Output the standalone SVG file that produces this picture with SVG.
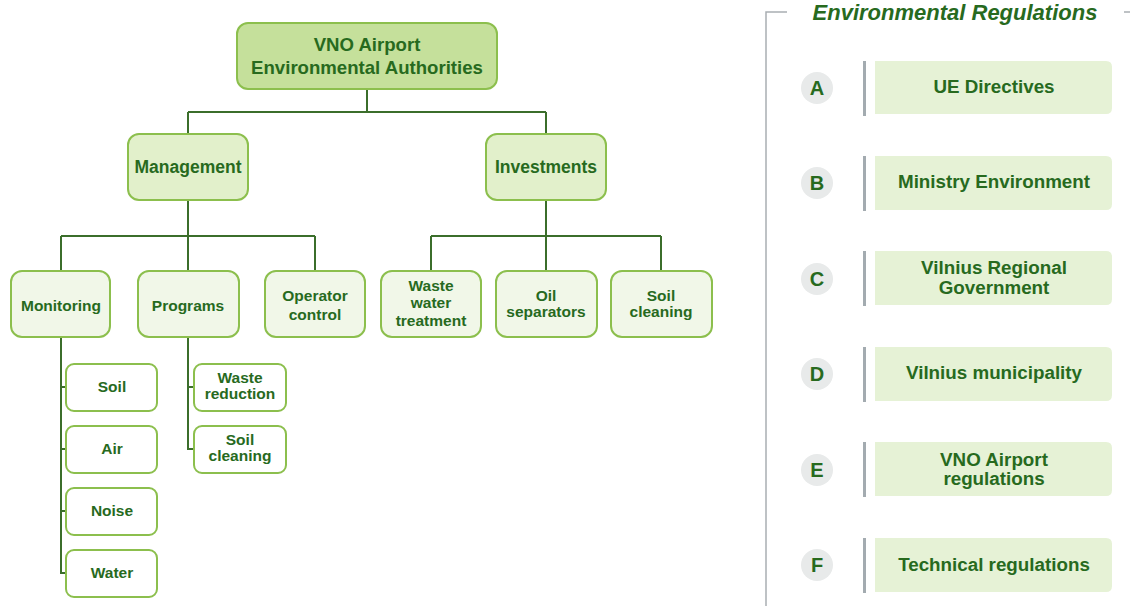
<svg xmlns="http://www.w3.org/2000/svg" width="1130" height="606" viewBox="0 0 1130 606">
<style>
text{font-family:"Liberation Sans",Arial,sans-serif;font-weight:bold;fill:#276a1e;text-anchor:middle}
.n1{fill:#c5e09b;stroke:#8cbf4d;stroke-width:2}
.n2{fill:#e2f0cb;stroke:#8cbf4d;stroke-width:2}
.n3{fill:#f1f7e8;stroke:#8cbf4d;stroke-width:2}
.n4{fill:#ffffff;stroke:#8cbf4d;stroke-width:2}
.t18{font-size:18.6px}
.t17{font-size:17.5px}
.t15{font-size:15.5px}
.conn{fill:none;stroke:#3b6e2b;stroke-width:2}
.frame{fill:none;stroke:#a9aeb2;stroke-width:1.5}
.bar{fill:#a3abb0}
.reg{fill:#e6f2d6}
.circ{fill:#e8eaea}
.rt{font-size:18.8px}
.lt{font-size:20px}
</style>
<g id="connectors">
<path class="conn" d="M367 89V112M188 112H546M188 112V134M546 112V134"/>
<path class="conn" d="M188 200V236M61 236H315M61 236V271M188 236V271M315 236V271"/>
<path class="conn" d="M546 200V236M431 236H661M431 236V271M546 236V271M661 236V271"/>
<path class="conn" d="M61 337V573H66M61 387H66M61 449H66M61 511H66"/>
<path class="conn" d="M188 337V449H194M188 387H194"/>
</g>
<g id="root"><rect class="n1" x="237" y="23" width="260" height="66" rx="11"/><text class="t18" x="367" y="51">VNO Airport</text><text class="t18" x="367" y="74">Environmental Authorities</text></g>
<g id="management"><rect class="n2" x="128" y="134" width="120" height="66" rx="11"/><text class="t17" x="188" y="173">Management</text></g>
<g id="investments"><rect class="n2" x="486" y="134" width="120" height="66" rx="11"/><text class="t17" x="546" y="173">Investments</text></g>
<g id="monitoring"><rect class="n3" x="11" y="271" width="99" height="66" rx="11"/><text class="t15" x="61" y="311">Monitoring</text></g>
<g id="programs"><rect class="n3" x="138" y="271" width="101" height="66" rx="11"/><text class="t15" x="188" y="311">Programs</text></g>
<g id="operator"><rect class="n3" x="265" y="271" width="100" height="66" rx="11"/><text class="t15" x="315" y="301">Operator</text><text class="t15" x="315" y="320">control</text></g>
<g id="wastewater"><rect class="n3" x="381" y="271" width="100" height="66" rx="11"/><text class="t15" x="431" y="291">Waste</text><text class="t15" x="431" y="308">water</text><text class="t15" x="431" y="326">treatment</text></g>
<g id="oil"><rect class="n3" x="496" y="271" width="101" height="66" rx="11"/><text class="t15" x="546" y="301">Oil</text><text class="t15" x="546" y="317">separators</text></g>
<g id="soilclean1"><rect class="n3" x="611" y="271" width="101" height="66" rx="11"/><text class="t15" x="661" y="301">Soil</text><text class="t15" x="661" y="317">cleaning</text></g>
<g id="soil"><rect class="n4" x="66" y="364" width="91" height="47" rx="8"/><text class="t15" x="112" y="392">Soil</text></g>
<g id="air"><rect class="n4" x="66" y="426" width="91" height="47" rx="8"/><text class="t15" x="112" y="454">Air</text></g>
<g id="noise"><rect class="n4" x="66" y="488" width="91" height="47" rx="8"/><text class="t15" x="112" y="516">Noise</text></g>
<g id="water"><rect class="n4" x="66" y="550" width="91" height="47" rx="8"/><text class="t15" x="112" y="578">Water</text></g>
<g id="wastered"><rect class="n4" x="194" y="364" width="92" height="47" rx="8"/><text class="t15" x="240" y="383">Waste</text><text class="t15" x="240" y="399">reduction</text></g>
<g id="soilclean2"><rect class="n4" x="194" y="426" width="92" height="47" rx="8"/><text class="t15" x="240" y="445">Soil</text><text class="t15" x="240" y="461">cleaning</text></g>
<g id="regulations">
<path class="frame" d="M787 12H766V606M1124 12H1130"/>
<text x="955" y="20" style="font-size:22px;font-style:italic">Environmental Regulations</text>
</g>
<g id="regA"><circle class="circ" cx="817" cy="88" r="16"/><text class="lt" x="817" y="95">A</text><rect class="bar" x="863" y="61" width="3" height="55"/><path class="reg" d="M875 61H1106Q1112 61 1112 67V108Q1112 114 1106 114H875Z"/><text class="rt" x="994" y="93">UE Directives</text></g>
<g id="regB"><circle class="circ" cx="817" cy="183" r="16"/><text class="lt" x="817" y="190">B</text><rect class="bar" x="863" y="156" width="3" height="55"/><path class="reg" d="M875 156H1106Q1112 156 1112 162V204Q1112 210 1106 210H875Z"/><text class="rt" x="994" y="188">Ministry Environment</text></g>
<g id="regC"><circle class="circ" cx="817" cy="279" r="16"/><text class="lt" x="817" y="286">C</text><rect class="bar" x="863" y="251" width="3" height="55"/><path class="reg" d="M875 251H1106Q1112 251 1112 257V299Q1112 305 1106 305H875Z"/><text class="rt" x="994" y="274">Vilnius Regional</text><text class="rt" x="994" y="294">Government</text></g>
<g id="regD"><circle class="circ" cx="817" cy="374" r="16"/><text class="lt" x="817" y="381">D</text><rect class="bar" x="863" y="347" width="3" height="55"/><path class="reg" d="M875 347H1106Q1112 347 1112 353V395Q1112 401 1106 401H875Z"/><text class="rt" x="994" y="379">Vilnius municipality</text></g>
<g id="regE"><circle class="circ" cx="817" cy="470" r="16"/><text class="lt" x="817" y="477">E</text><rect class="bar" x="863" y="442" width="3" height="55"/><path class="reg" d="M875 442H1106Q1112 442 1112 448V490Q1112 496 1106 496H875Z"/><text class="rt" x="994" y="466">VNO Airport</text><text class="rt" x="994" y="485">regulations</text></g>
<g id="regF"><circle class="circ" cx="817" cy="565" r="16"/><text class="lt" x="817" y="572">F</text><rect class="bar" x="863" y="538" width="3" height="55"/><path class="reg" d="M875 538H1106Q1112 538 1112 544V586Q1112 592 1106 592H875Z"/><text class="rt" x="994" y="571">Technical regulations</text></g>
</svg>
